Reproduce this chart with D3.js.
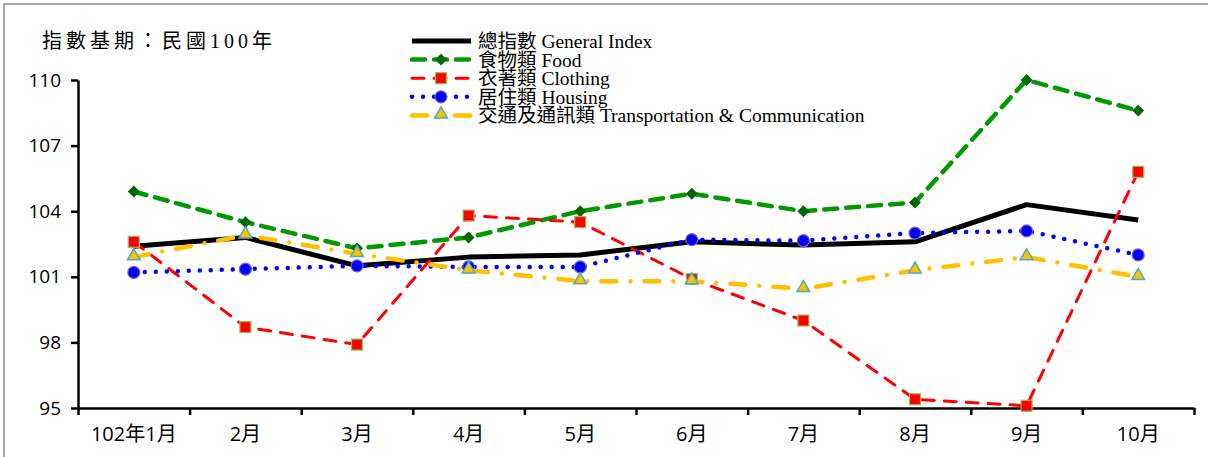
<!DOCTYPE html>
<html>
<head>
<meta charset="utf-8">
<script src="https://cdn.jsdelivr.net/npm/d3@7"></script>
<style>
  body { margin: 0; background: #fff; }
  .axis path, .axis line { stroke: #000; stroke-width: 2.5; }
  .axis text { font-family: "Open Sans", "Noto Sans CJK TC", sans-serif; font-size: 19px; fill: #000; }
  .x.axis text { font-size: 20px; }
  .legend text { font-family: "Liberation Serif", "Noto Sans CJK TC", serif; font-size: 19.5px; fill: #000; }
</style>
</head>
<body>
<div id="chart"></div>
<script>
// 指數基期：民國100年, 102年1月 ~ 10月
var months = ["102年1月", "2月", "3月", "4月", "5月", "6月", "7月", "8月", "9月", "10月"];
var yTicks = [95, 98, 101, 104, 107, 110];

var general   = [102.4, 102.8, 101.5, 101.9, 102.0, 102.6, 102.45, 102.6, 104.3, 103.6];
var food      = [104.9, 103.5, 102.3, 102.8, 104.0, 104.8, 104.0, 104.4, 110.0, 108.6];
var clothing  = [102.6, 98.7, 97.9, 103.8, 103.5, 100.9, 99.0, 95.4, 95.1, 105.8];
var housing   = [101.2, 101.35, 101.5, 101.45, 101.45, 102.7, 102.65, 103.0, 103.1, 102.0];
var transport = [101.9, 102.9, 102.05, 101.3, 100.8, 100.8, 100.45, 101.3, 101.9, 101.0];

var seriesNames = ["總指數 General Index", "食物類 Food", "衣著類 Clothing", "居住類 Housing",
                   "交通及通訊類 Transportation & Communication"];

var w = 1208, h = 457;
var padLeft = 78, padRight = 1194, padTop = 80, padBottom = 408;

var svg = d3.select("#chart").append("svg")
    .attr("width", w)
    .attr("height", h);

// frame
svg.append("rect")
    .attr("x", 4).attr("y", 4)
    .attr("width", w).attr("height", h)
    .attr("fill", "none")
    .attr("stroke", "#8c8c8c")
    .attr("stroke-width", 1.5);

var xscale = d3.scaleBand().domain(months).range([padLeft, padRight]);
var xedge = d3.scaleLinear().domain([0, months.length]).range([padLeft, padRight]);
var yscale = d3.scaleLinear().domain([95, 110]).range([padBottom, padTop]);

// x axis: tick marks on band edges, labels at centers
svg.append("g")
    .attr("class", "x axis")
    .attr("transform", "translate(0," + padBottom + ")")
    .call(d3.axisBottom(xedge).ticks(months.length).tickSize(7).tickSizeOuter(0).tickFormat(""));

var xlab = svg.append("g")
    .attr("class", "x axis")
    .attr("transform", "translate(0," + padBottom + ")")
    .call(d3.axisBottom(xscale).tickSize(0).tickPadding(19));
xlab.select(".domain").remove();

svg.append("g")
    .attr("class", "y axis")
    .attr("transform", "translate(" + padLeft + ",0)")
    .call(d3.axisLeft(yscale).tickValues(yTicks).tickSize(7).tickSizeOuter(0).tickPadding(10));

var cx = function(d, i) { return xscale(months[i]) + xscale.bandwidth() / 2; };

var styles = [
    { data: general,   color: "#000000", width: 5,   dash: null,          cap: "butt",  marker: null },
    { data: food,      color: "#009900", width: 4.5, dash: "13,9",        cap: "round", marker: "diamond" },
    { data: clothing,  color: "#ff0000", width: 3,   dash: "12,10",       cap: "round", marker: "square" },
    { data: housing,   color: "#0000ff", width: 4.5, dash: "0,11",        cap: "round", marker: "circle" },
    { data: transport, color: "#ffc000", width: 4.5, dash: "15,14,0,14",  cap: "round", marker: "triangle" }
];

var line = d3.line().x(cx).y(function(d) { return yscale(d); });

function drawMarker(g, type, x, y) {
    if (type === "diamond") {
        g.append("path").attr("d", d3.symbol(d3.symbolDiamond2, 90)())
            .attr("transform", "translate(" + x + "," + y + ")")
            .attr("fill", "#006600");
    } else if (type === "square") {
        g.append("rect")
            .attr("x", x - 5.5).attr("y", y - 5.5)
            .attr("width", 11).attr("height", 11)
            .attr("fill", "#ff0000")
            .attr("stroke", "#9bbb59").attr("stroke-width", 1.2);
    } else if (type === "circle") {
        g.append("circle")
            .attr("cx", x).attr("cy", y).attr("r", 6)
            .attr("fill", "#0000ff")
            .attr("stroke", "#7f5fbf").attr("stroke-width", 1.2);
    } else if (type === "triangle") {
        g.append("path").attr("d", d3.symbol(d3.symbolTriangle, 70)())
            .attr("transform", "translate(" + x + "," + (y - 1) + ")")
            .attr("fill", "#ffc000")
            .attr("stroke", "#4bacc6").attr("stroke-width", 1.5);
    }
}

styles.forEach(function(s) {
    var g = svg.append("g");
    g.append("path")
        .datum(s.data)
        .attr("d", line)
        .attr("fill", "none")
        .attr("stroke", s.color)
        .attr("stroke-width", s.width)
        .attr("stroke-linecap", s.cap)
        .attr("stroke-linejoin", "round")
        .attr("stroke-dasharray", s.dash);
    if (s.marker) {
        s.data.forEach(function(d, i) {
            drawMarker(g, s.marker, cx(d, i), yscale(d));
        });
    }
});

// title
svg.append("text")
    .attr("x", 42).attr("y", 48)
    .attr("font-family", "'Liberation Serif', 'Noto Sans CJK TC', serif")
    .attr("font-size", 20)
    .attr("letter-spacing", 4)
    .text("指數基期：民國100年");

// legend
var legend = svg.append("g").attr("class", "legend");
styles.forEach(function(s, i) {
    var y = 41 + i * 18.6;
    var row = legend.append("g");
    row.append("line")
        .attr("x1", 412).attr("x2", 471)
        .attr("y1", y).attr("y2", y)
        .attr("stroke", s.color)
        .attr("stroke-width", s.width)
        .attr("stroke-linecap", s.cap)
        .attr("stroke-dasharray", s.dash);
    if (s.marker) drawMarker(row, s.marker, 441, y);
    row.append("text")
        .attr("x", 478).attr("y", y + 7)
        .text(seriesNames[i]);
});
</script>
</body>
</html>
